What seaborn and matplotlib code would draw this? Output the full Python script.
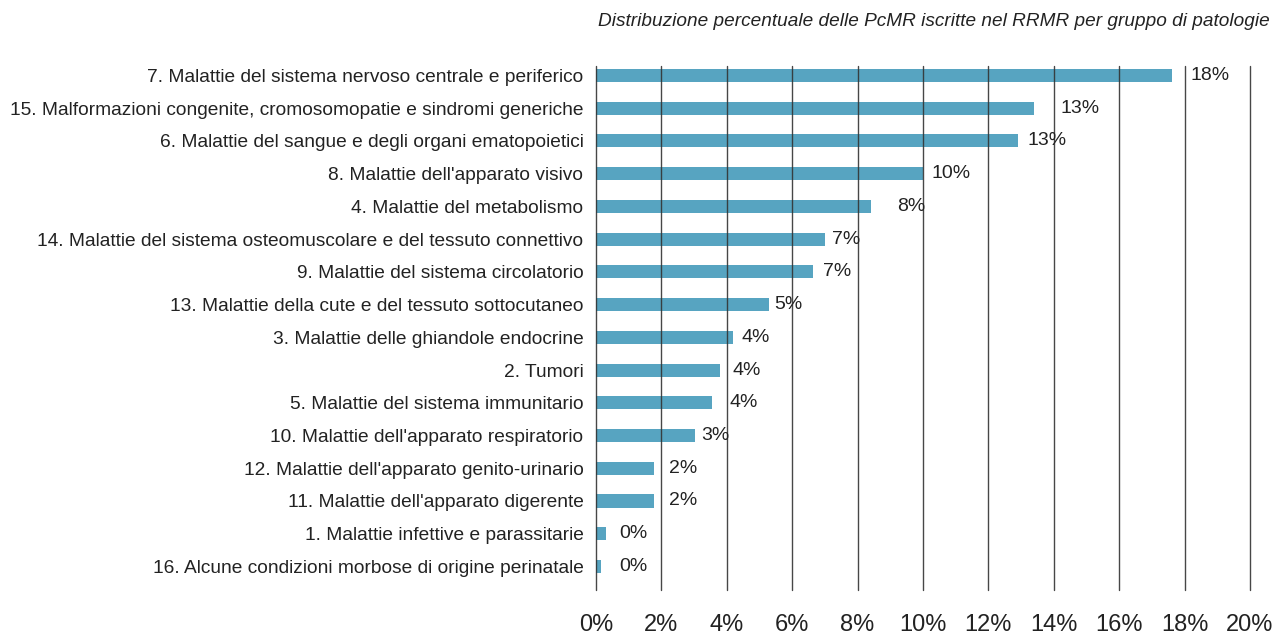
import matplotlib
matplotlib.use("Agg")
import matplotlib.pyplot as plt
import seaborn as sns
import pandas as pd
from matplotlib.ticker import FuncFormatter

categories = [
    "7. Malattie del sistema nervoso centrale e periferico",
    "15. Malformazioni congenite, cromosomopatie e sindromi generiche",
    "6. Malattie del sangue e degli organi ematopoietici",
    "8. Malattie dell'apparato visivo",
    "4. Malattie del metabolismo",
    "14. Malattie del sistema osteomuscolare e del tessuto connettivo",
    "9. Malattie del sistema circolatorio",
    "13. Malattie della cute e del tessuto sottocutaneo",
    "3. Malattie delle ghiandole endocrine",
    "2. Tumori",
    "5. Malattie del sistema immunitario",
    "10. Malattie dell'apparato respiratorio",
    "12. Malattie dell'apparato genito-urinario",
    "11. Malattie dell'apparato digerente",
    "1. Malattie infettive e parassitarie",
    "16. Alcune condizioni morbose di origine perinatale",
]
values = [17.6, 13.4, 12.9, 10.0, 8.4, 7.0, 6.65, 5.3, 4.2, 3.8, 3.56, 3.04, 1.76, 1.76, 0.32, 0.16]
value_labels = ["18%", "13%", "13%", "10%", "8%", "7%", "7%", "5%", "4%", "4%", "4%", "3%", "2%", "2%", "0%", "0%"]
tick_values = [0, 2, 4, 6, 8, 10, 12, 14, 16, 18, 20]
title = "Distribuzione percentuale delle PcMR iscritte nel RRMR per gruppo di patologie"

# label offsets from bar end (in points) - layout only
label_offsets = [14, 19, 7, 6, 19, 5, 7, 3.6, 6, 9, 12, 4, 11, 11, 9, 13]

sns.set_theme(style="white")
plt.rcParams["font.family"] = ["Liberation Sans", "DejaVu Sans"]

df = pd.DataFrame({"cat": categories, "val": values})

fig = plt.figure(figsize=(12.79, 6.34), dpi=100)
ax = fig.add_axes([596 / 1279, (634 - 590) / 634, (1250 - 596) / 1279, (590 - 66) / 634])

sns.barplot(data=df, y="cat", x="val", color="#57A4C1", saturation=1, width=0.4,
            orient="h", ax=ax, zorder=2, linewidth=0, edgecolor="none")

ax.set_xlim(0, 20)
ax.set_ylim(len(categories) - 1 + 0.72, -0.29)
ax.set_xticks(tick_values)
ax.xaxis.set_major_formatter(FuncFormatter(lambda v, p: f"{v:.0f}%"))
for t in tick_values:
    ax.axvline(t, color="#333333", lw=1.0, alpha=0.9, zorder=3, clip_on=False)

for s in ax.spines.values():
    s.set_visible(False)

ax.set_xlabel("")
ax.set_ylabel("")
ax.tick_params(axis="x", length=0, pad=17, labelsize=17, colors="#222222")
ax.tick_params(axis="y", length=0, pad=9, labelsize=13.8, colors="#222222")

for i, (v, lab) in enumerate(zip(values, value_labels)):
    ax.annotate(lab, xy=(v, i), xytext=(label_offsets[i], 0), textcoords="offset points",
                ha="left", va="center", fontsize=14, color="#222222", zorder=4)

fig.text(1270 / 1279, 1 - 22 / 634, title, ha="right", va="center", fontsize=13.7,
         style="italic", color="#222222")

fig.savefig("out.png", dpi=100)
